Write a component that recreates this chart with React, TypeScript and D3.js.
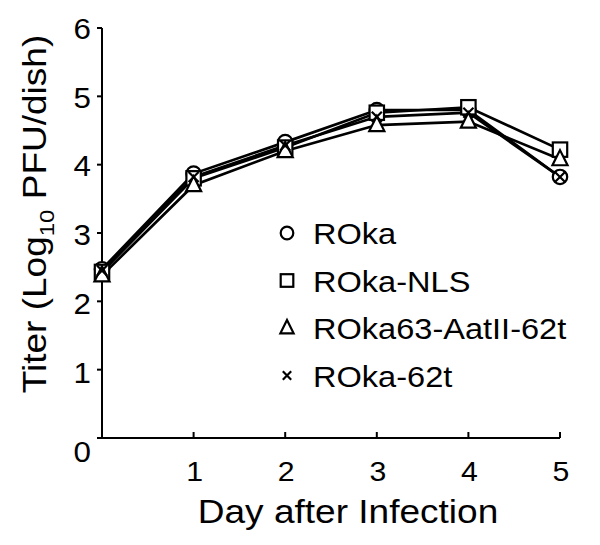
import React from "react";
import * as d3 from "d3";

const days = [0, 1, 2, 3, 4, 5];
const seriesNames = ["ROka", "ROka-NLS", "ROka63-AatII-62t", "ROka-62t"];
const rokaValues = [2.47, 3.87, 4.33, 4.8, 4.8, 3.82];
const nlsValues = [2.43, 3.8, 4.25, 4.76, 4.84, 4.22];
const aatValues = [2.38, 3.7, 4.2, 4.58, 4.63, 4.08];
const t62Values = [2.45, 3.82, 4.28, 4.7, 4.76, 3.82];
const yTicks = [0, 1, 2, 3, 4, 5, 6];
const xTicks = [1, 2, 3, 4, 5];
const markerKinds = ["circle", "square", "triangle", "cross"];

const W = 600;
const H = 545;
const FONT = "'Liberation Sans', Arial, sans-serif";

function Marker({ kind, x, y, s }: { kind: string; x: number; y: number; s: number }) {
  const sw = 2.2;
  if (kind === "circle")
    return <circle cx={x} cy={y} r={s} fill="white" stroke="black" strokeWidth={sw} />;
  if (kind === "square")
    return <rect x={x - s} y={y - s} width={2 * s} height={2 * s} fill="white" stroke="black" strokeWidth={sw} />;
  if (kind === "triangle") {
    const h = s * 2.1;
    const p = `M${x},${y - h * 0.6} L${x + s * 1.05},${y + h * 0.4} L${x - s * 1.05},${y + h * 0.4} Z`;
    return <path d={p} fill="white" stroke="black" strokeWidth={sw} />;
  }
  const c = s * 0.7;
  return (
    <path
      d={`M${x - c},${y - c} L${x + c},${y + c} M${x - c},${y + c} L${x + c},${y - c}`}
      stroke="black"
      strokeWidth={sw}
      fill="none"
    />
  );
}

export default function App() {
  const x = d3.scaleLinear().domain([0, 5]).range([102, 560]);
  const y = d3.scaleLinear().domain([0, 6]).range([438, 28]);
  const allValues = [rokaValues, nlsValues, aatValues, t62Values];
  const line = d3
    .line<number>()
    .x((_, i) => x(days[i]))
    .y((v) => y(v));

  const legendY = d3.scaleLinear().domain([0, 3]).range([233, 375.5]);

  return (
    <svg width={W} height={H} style={{ position: "absolute", left: 0, top: 0, background: "white" }} fontFamily={FONT}>
      <rect x={0} y={0} width={W} height={H} fill="white" />
      {/* axes */}
      <line x1={x(0)} x2={x(0)} y1={y(6)} y2={y(0)} stroke="black" strokeWidth={2} />
      <line x1={x(0)} x2={x(5)} y1={y(0)} y2={y(0)} stroke="black" strokeWidth={2} />
      {yTicks.map((t) => (
        <g key={"yt" + t}>
          <line x1={x(0) - 5} x2={x(0)} y1={y(t)} y2={y(t)} stroke="black" strokeWidth={2} />
          <text
            transform={`translate(${x(0) - 11},${t === 0 ? 462 : y(t) + 11 + (6 - t) * 0.4}) scale(1.08,1)`}
            fontSize={29}
            textAnchor="end"
          >
            {t}
          </text>
        </g>
      ))}
      {xTicks.map((t) => (
        <g key={"xt" + t}>
          <line x1={x(t)} x2={x(t)} y1={y(0)} y2={y(0) - 6} stroke="black" strokeWidth={2} />
          <text transform={`translate(${x(t) + 1},481) scale(1.08,1)`} fontSize={28} textAnchor="middle">
            {t}
          </text>
        </g>
      ))}
      <text transform={`translate(348,523) scale(1.14,1)`} fontSize={32.5} textAnchor="middle">
        Day after Infection
      </text>
      <text transform={`translate(46,214) rotate(-90) scale(1.14,1)`} fontSize={32.5} textAnchor="middle">
        Titer (Log
        <tspan fontSize={21} dy={8}>10</tspan>
        <tspan dy={-8}> PFU/dish)</tspan>
      </text>
      {/* series */}
      {allValues.map((vals, si) => (
        <path key={"l" + si} d={line(vals) || ""} fill="none" stroke="black" strokeWidth={2.7} />
      ))}
      {allValues.map((vals, si) => (
        <g key={"m" + si}>
          {vals.map((v, i) => (
            <Marker key={i} kind={markerKinds[si]} x={x(days[i])} y={y(v)} s={7.2} />
          ))}
        </g>
      ))}
      {/* legend */}
      {seriesNames.map((name, i) => (
        <g key={"lg" + i}>
          <Marker kind={markerKinds[i]} x={287} y={legendY(i)} s={i === 3 ? 6 : 6.3} />
          <text transform={`translate(313,${legendY(i) + 11}) scale(1.085,1)`} fontSize={30}>
            {name}
          </text>
        </g>
      ))}
    </svg>
  );
}
